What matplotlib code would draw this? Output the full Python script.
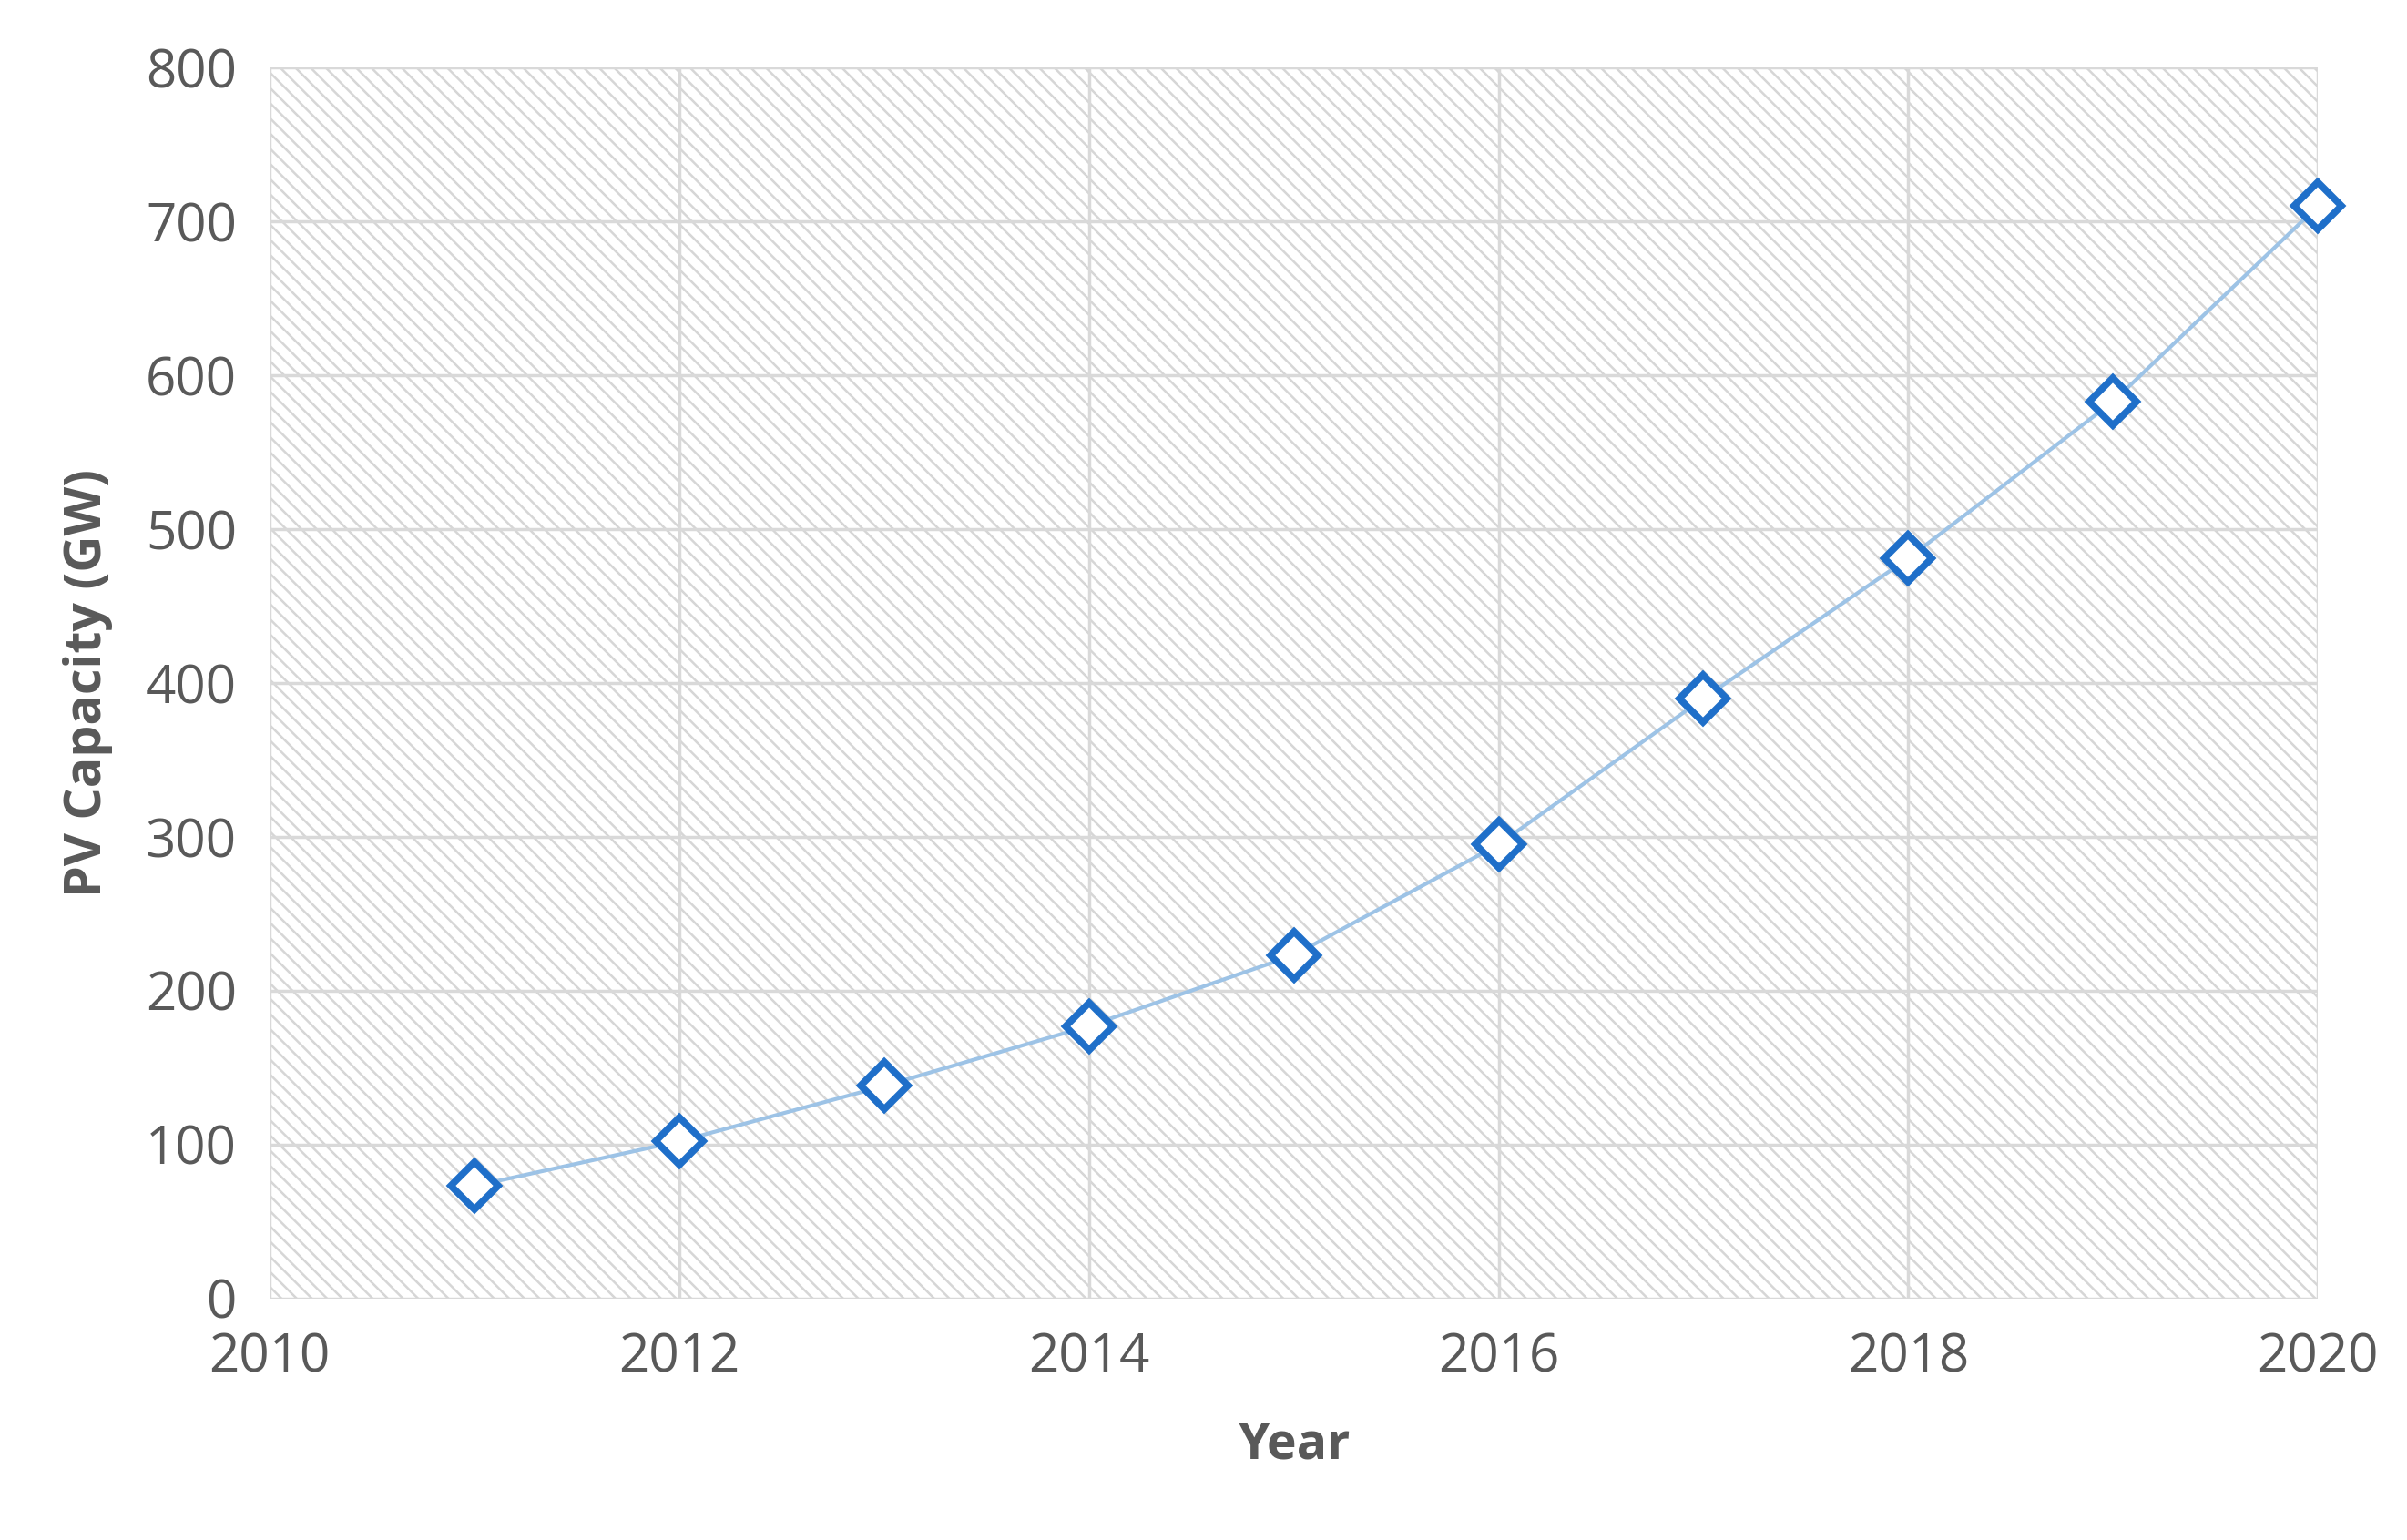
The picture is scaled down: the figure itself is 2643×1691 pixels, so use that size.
import matplotlib
matplotlib.use("Agg")
import matplotlib.pyplot as plt

years = [2011, 2012, 2013, 2014, 2015, 2016, 2017, 2018, 2019, 2020]
capacity = [73, 102, 138, 177, 223, 295, 390, 481, 583, 710]
xticks = [2010, 2012, 2014, 2016, 2018, 2020]
yticks = [0, 100, 200, 300, 400, 500, 600, 700, 800]

plt.rcParams['font.family'] = ['Open Sans', 'DejaVu Sans']
plt.rcParams['hatch.color'] = '#d6d6d6'
plt.rcParams['hatch.linewidth'] = 1.8

fig = plt.figure(figsize=(26.43, 16.91), dpi=100)
ax = fig.add_axes([0.112, 0.157, 0.851, 0.799])
ax.patch.set_facecolor('white')
ax.patch.set_hatch('\\\\')
ax.patch.set_edgecolor('#d6d6d6')

ax.plot(years, capacity, color='#9dc3e6', lw=3, zorder=3, clip_on=False)
ax.plot(years, capacity, ls='none', marker='D', ms=26, mfc='white', mec='#1f6fc9', mew=5.5, zorder=4, clip_on=False)

ax.set_xlim(2010, 2020)
ax.set_ylim(0, 800)
ax.set_xticks(xticks)
ax.set_yticks(yticks)
ax.grid(True, color='#d9d9d9', lw=2.5, zorder=1)
ax.set_axisbelow(True)
for s in ax.spines.values():
    s.set_visible(False)
ax.tick_params(length=0, labelsize=42, labelcolor='#595959', pad=26)
ax.set_xlabel('Year', fontsize=40, fontweight='bold', color='#595959', labelpad=28)
ax.set_ylabel('PV Capacity (GW)', fontsize=40, fontweight='bold', color='#595959', labelpad=26)

fig.savefig('out.png', dpi=100)
